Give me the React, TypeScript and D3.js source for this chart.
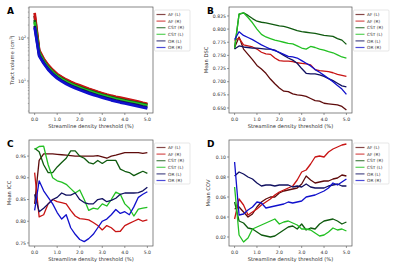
import React from "react";
import * as d3 from "d3";

const thresholds = [0, 0.2, 0.4, 0.6, 0.8, 1.0, 1.2, 1.4, 1.6, 1.8, 2.0, 2.2, 2.4, 2.6, 2.8, 3.0, 3.2, 3.4, 3.6, 3.8, 4.0, 4.2, 4.4, 4.6, 4.8, 5.0];
const seriesNames = ["AF (L)", "AF (R)", "CST (R)", "CST (L)", "OR (L)", "OR (R)"];
const seriesColors = ["#5e0b0b", "#c81414", "#0f5a0f", "#22c022", "#101060", "#1010cc"];
const xTicks = [0, 1, 2, 3, 4, 5];

// Panel A: tract volume (cm^3), log scale
const volAFL = [330, 50, 31.5, 22.5, 17.5, 14.0, 12.0, 10.4, 9.3, 8.3, 7.6, 6.95, 6.4, 5.9, 5.45, 5.05, 4.7, 4.4, 4.15, 3.95, 3.75, 3.55, 3.35, 3.2, 3.0, 2.85];
const volAFR = [385, 52, 33, 23.5, 18.2, 14.5, 12.4, 10.8, 9.6, 8.6, 7.9, 7.2, 6.6, 6.1, 5.6, 5.2, 4.85, 4.55, 4.3, 4.1, 3.9, 3.7, 3.5, 3.3, 3.1, 2.95];
const volCSTR = [260, 46, 29.5, 21.2, 16.5, 13.3, 11.4, 9.9, 8.8, 7.9, 7.2, 6.6, 6.05, 5.6, 5.2, 4.8, 4.5, 4.2, 3.95, 3.75, 3.55, 3.35, 3.2, 3.05, 2.9, 2.75];
const volCSTL = [235, 45, 28.8, 20.6, 16.0, 12.9, 11.0, 9.6, 8.5, 7.65, 6.95, 6.35, 5.85, 5.4, 5.0, 4.65, 4.35, 4.05, 3.8, 3.6, 3.4, 3.25, 3.1, 2.95, 2.8, 2.65];
const volORL = [190, 40, 26.5, 19.0, 14.8, 12.0, 10.2, 8.9, 7.9, 7.1, 6.45, 5.9, 5.4, 5.0, 4.6, 4.3, 4.0, 3.75, 3.5, 3.3, 3.15, 3.0, 2.85, 2.7, 2.55, 2.45];
const volORR = [175, 38, 25.5, 18.2, 14.2, 11.5, 9.8, 8.5, 7.5, 6.75, 6.15, 5.6, 5.15, 4.75, 4.4, 4.1, 3.8, 3.55, 3.35, 3.15, 3.0, 2.85, 2.7, 2.55, 2.42, 2.3];

// Panel B: Mean DSC
const dscAFL = [0.765, 0.785, 0.762, 0.752, 0.742, 0.731, 0.724, 0.716, 0.705, 0.696, 0.688, 0.682, 0.681, 0.677, 0.675, 0.674, 0.672, 0.668, 0.664, 0.663, 0.659, 0.658, 0.657, 0.656, 0.653, 0.646];
const dscAFR = [0.778, 0.783, 0.770, 0.768, 0.766, 0.762, 0.756, 0.753, 0.752, 0.745, 0.740, 0.739, 0.739, 0.738, 0.736, 0.735, 0.734, 0.732, 0.723, 0.721, 0.720, 0.719, 0.717, 0.714, 0.712, 0.710];
const dscCSTR = [0.765, 0.828, 0.831, 0.826, 0.820, 0.815, 0.813, 0.812, 0.810, 0.808, 0.806, 0.805, 0.803, 0.800, 0.797, 0.795, 0.794, 0.793, 0.792, 0.790, 0.788, 0.787, 0.786, 0.782, 0.779, 0.771];
const dscCSTL = [0.762, 0.829, 0.831, 0.822, 0.812, 0.800, 0.790, 0.785, 0.782, 0.779, 0.777, 0.775, 0.773, 0.772, 0.768, 0.764, 0.762, 0.767, 0.765, 0.762, 0.760, 0.757, 0.755, 0.751, 0.747, 0.745];
const dscORL = [0.762, 0.768, 0.766, 0.765, 0.764, 0.764, 0.763, 0.762, 0.762, 0.760, 0.755, 0.750, 0.745, 0.741, 0.735, 0.725, 0.716, 0.715, 0.715, 0.713, 0.710, 0.706, 0.702, 0.697, 0.692, 0.690];
const dscORR = [0.780, 0.795, 0.788, 0.784, 0.780, 0.775, 0.770, 0.766, 0.762, 0.759, 0.756, 0.752, 0.748, 0.747, 0.745, 0.740, 0.735, 0.730, 0.723, 0.718, 0.712, 0.706, 0.700, 0.693, 0.686, 0.676];

// Panel C: Mean ICC
const iccAFL = [0.840, 0.940, 0.955, 0.955, 0.955, 0.954, 0.953, 0.952, 0.951, 0.950, 0.950, 0.950, 0.950, 0.950, 0.951, 0.948, 0.945, 0.950, 0.952, 0.955, 0.958, 0.958, 0.958, 0.958, 0.956, 0.958];
const iccAFR = [0.912, 0.810, 0.815, 0.840, 0.850, 0.845, 0.843, 0.840, 0.825, 0.812, 0.806, 0.805, 0.803, 0.797, 0.790, 0.780, 0.790, 0.785, 0.776, 0.777, 0.790, 0.795, 0.800, 0.805, 0.800, 0.803];
const iccCSTR = [0.968, 0.960, 0.930, 0.912, 0.912, 0.925, 0.935, 0.945, 0.962, 0.962, 0.950, 0.945, 0.935, 0.932, 0.940, 0.933, 0.940, 0.940, 0.940, 0.920, 0.915, 0.912, 0.905, 0.910, 0.915, 0.910];
const iccCSTL = [0.965, 0.972, 0.973, 0.930, 0.900, 0.893, 0.890, 0.885, 0.875, 0.865, 0.872, 0.850, 0.825, 0.830, 0.828, 0.840, 0.835, 0.850, 0.867, 0.862, 0.840, 0.830, 0.812, 0.828, 0.830, 0.832];
const iccORL = [0.862, 0.822, 0.830, 0.840, 0.850, 0.855, 0.865, 0.860, 0.860, 0.865, 0.850, 0.843, 0.840, 0.840, 0.850, 0.852, 0.845, 0.848, 0.853, 0.862, 0.865, 0.865, 0.865, 0.866, 0.870, 0.878];
const iccORR = [0.825, 0.893, 0.870, 0.855, 0.840, 0.820, 0.805, 0.815, 0.785, 0.770, 0.758, 0.753, 0.760, 0.770, 0.785, 0.800, 0.805, 0.815, 0.827, 0.818, 0.822, 0.815, 0.833, 0.855, 0.862, 0.868];

// Panel D: Mean COV
const covAFL = [0.048, 0.050, 0.045, 0.040, 0.043, 0.050, 0.055, 0.058, 0.060, 0.060, 0.064, 0.066, 0.067, 0.068, 0.069, 0.073, 0.081, 0.077, 0.074, 0.075, 0.076, 0.076, 0.078, 0.079, 0.082, 0.081];
const covAFR = [0.038, 0.058, 0.052, 0.042, 0.045, 0.048, 0.052, 0.055, 0.058, 0.062, 0.065, 0.067, 0.069, 0.071, 0.077, 0.085, 0.087, 0.093, 0.100, 0.101, 0.100, 0.105, 0.108, 0.110, 0.112, 0.113];
const covCSTR = [0.055, 0.036, 0.034, 0.029, 0.028, 0.025, 0.022, 0.021, 0.020, 0.021, 0.024, 0.027, 0.030, 0.031, 0.028, 0.033, 0.027, 0.029, 0.028, 0.033, 0.036, 0.037, 0.038, 0.036, 0.033, 0.035];
const covCSTL = [0.070, 0.022, 0.015, 0.019, 0.028, 0.030, 0.032, 0.034, 0.036, 0.038, 0.033, 0.035, 0.036, 0.034, 0.032, 0.028, 0.028, 0.027, 0.024, 0.021, 0.022, 0.025, 0.029, 0.027, 0.028, 0.026];
const covORL = [0.081, 0.085, 0.083, 0.080, 0.078, 0.074, 0.071, 0.072, 0.072, 0.071, 0.072, 0.072, 0.072, 0.070, 0.071, 0.070, 0.073, 0.070, 0.069, 0.069, 0.069, 0.071, 0.072, 0.073, 0.071, 0.071];
const covORR = [0.095, 0.042, 0.043, 0.047, 0.050, 0.055, 0.054, 0.049, 0.050, 0.051, 0.052, 0.053, 0.055, 0.054, 0.055, 0.056, 0.060, 0.061, 0.062, 0.064, 0.066, 0.069, 0.074, 0.072, 0.075, 0.078];

const ticksB = [0.65, 0.675, 0.7, 0.725, 0.75, 0.775, 0.8, 0.825];
const ticksC = [0.75, 0.8, 0.85, 0.9, 0.95];
const ticksD = [0.02, 0.04, 0.06, 0.08, 0.1];

const FONT = "DejaVu Sans, sans-serif";

type PanelProps = {
  letter: string;
  left: number; right: number; top: number; bottom: number;
  series: number[][];
  log?: boolean;
  yDomain: [number, number];
  yTicks?: number[];
  yFmt?: (v: number) => string;
  yLabel: React.ReactNode;
  yLabelX: number;
  lw: number;
};

function Panel(p: PanelProps) {
  const x = d3.scaleLinear().domain([-0.25, 5.25]).range([p.left, p.right]);
  const y = p.log
    ? d3.scaleLog().domain(p.yDomain).range([p.bottom, p.top])
    : d3.scaleLinear().domain(p.yDomain).range([p.bottom, p.top]);
  const line = d3.line<number>().x((_, i) => x(thresholds[i])).y((v) => y(v));
  const midY = (p.top + p.bottom) / 2;
  const midX = (p.left + p.right) / 2;
  const legX = p.right + 1.5;
  const legY = p.top + 3;
  const minor: number[] = [];
  if (p.log) {
    for (let e = 0; e <= 2; e++) for (let m = 2; m <= 9; m++) {
      const v = m * Math.pow(10, e);
      if (v >= p.yDomain[0] && v <= p.yDomain[1]) minor.push(v);
    }
  }
  return (
    <g>
      <text x={p.left - 22} y={p.top + 7} fontFamily={FONT} fontWeight="bold" fontSize={9}>{p.letter}</text>
      <defs>
        <clipPath id={"clip" + p.letter}>
          <rect x={p.left} y={p.top} width={p.right - p.left} height={p.bottom - p.top} />
        </clipPath>
      </defs>
      <g clipPath={`url(#clip${p.letter})`}>
        {p.series.map((s, i) => (
          <path key={i} d={line(s) || ""} fill="none" stroke={seriesColors[i]} strokeWidth={p.lw} strokeLinejoin="round" />
        ))}
      </g>
      <rect x={p.left} y={p.top} width={p.right - p.left} height={p.bottom - p.top} fill="none" stroke="#555" strokeWidth={0.7} />
      {xTicks.map((t) => (
        <g key={t}>
          <line x1={x(t)} x2={x(t)} y1={p.bottom} y2={p.bottom + 2} stroke="#555" strokeWidth={0.6} />
          <text x={x(t)} y={p.bottom + 7.5} textAnchor="middle" fontFamily={FONT} fontSize={4.6} fill="#333">{t.toFixed(1)}</text>
        </g>
      ))}
      <text x={midX} y={p.bottom + 15} textAnchor="middle" fontFamily={FONT} fontSize={5.2} fill="#333">Streamline density threshold (%)</text>
      {p.log ? (
        <g>
          {[10, 100].map((t, i) => (
            <g key={t}>
              <line x1={p.left - 2} x2={p.left} y1={y(t)} y2={y(t)} stroke="#555" strokeWidth={0.6} />
              <text x={p.left - 3} y={y(t) + 1.6} textAnchor="end" fontFamily={FONT} fontSize={4.6} fill="#333">
                10<tspan dy={-1.8} fontSize={3.2}>{i + 1}</tspan>
              </text>
            </g>
          ))}
          {minor.map((t) => (
            <line key={t} x1={p.left - 1.2} x2={p.left} y1={y(t)} y2={y(t)} stroke="#555" strokeWidth={0.4} />
          ))}
        </g>
      ) : (
        (p.yTicks || []).map((t) => (
          <g key={t}>
            <line x1={p.left - 2} x2={p.left} y1={y(t)} y2={y(t)} stroke="#555" strokeWidth={0.6} />
            <text x={p.left - 3} y={y(t) + 1.6} textAnchor="end" fontFamily={FONT} fontSize={4.6} fill="#333">{p.yFmt ? p.yFmt(t) : String(t)}</text>
          </g>
        ))
      )}
      <text transform={`translate(${p.yLabelX},${midY}) rotate(-90)`} textAnchor="middle" fontFamily={FONT} fontSize={5.2} fill="#333">{p.yLabel}</text>
      <g>
        <rect x={legX} y={legY} width={35.5} height={41} fill="#fff" stroke="#ccc" strokeWidth={0.5} rx={1} />
        {seriesNames.map((n, i) => (
          <g key={n}>
            <line x1={legX + 2} x2={legX + 11} y1={legY + 4.5 + i * 6.6} y2={legY + 4.5 + i * 6.6} stroke={seriesColors[i]} strokeOpacity={0.75} strokeWidth={1.2} />
            <text x={legX + 13.5} y={legY + 6.1 + i * 6.6} fontFamily={FONT} fontSize={4.3} fill="#333">{n}</text>
          </g>
        ))}
      </g>
    </g>
  );
}

export default function App() {
  return (
    <div style={{ position: "fixed", left: 0, top: 0 }}>
      <svg width={400} height={266} viewBox="0 0 400 266" style={{ display: "block", background: "#fff" }}>
        <Panel letter="A" left={29} right={153} top={7} bottom={113}
          series={[volAFL, volAFR, volCSTR, volCSTL, volORL, volORR]}
          log yDomain={[1.8, 526]} lw={2.7}
          yLabel={<tspan>Tract volume (cm<tspan dy={-1.6} fontSize={3.5}>3</tspan><tspan dy={1.6}>)</tspan></tspan>}
          yLabelX={14} />
        <Panel letter="B" left={229} right={352} top={7} bottom={113}
          series={[dscAFL, dscAFR, dscCSTR, dscCSTL, dscORL, dscORR]}
          yDomain={[0.6405, 0.842]} yTicks={ticksB} yFmt={d3.format(".3f")} lw={1.3}
          yLabel="Mean DSC" yLabelX={208} />
        <Panel letter="C" left={29} right={153} top={140} bottom={246}
          series={[iccAFL, iccAFR, iccCSTR, iccCSTL, iccORL, iccORR]}
          yDomain={[0.743, 0.987]} yTicks={ticksC} yFmt={d3.format(".2f")} lw={1.3}
          yLabel="Mean ICC" yLabelX={11} />
        <Panel letter="D" left={229} right={352} top={140} bottom={246}
          series={[covAFL, covAFR, covCSTR, covCSTL, covORL, covORR]}
          yDomain={[0.011, 0.117]} yTicks={ticksD} yFmt={d3.format(".2f")} lw={1.3}
          yLabel="Mean COV" yLabelX={210} />
      </svg>
    </div>
  );
}
